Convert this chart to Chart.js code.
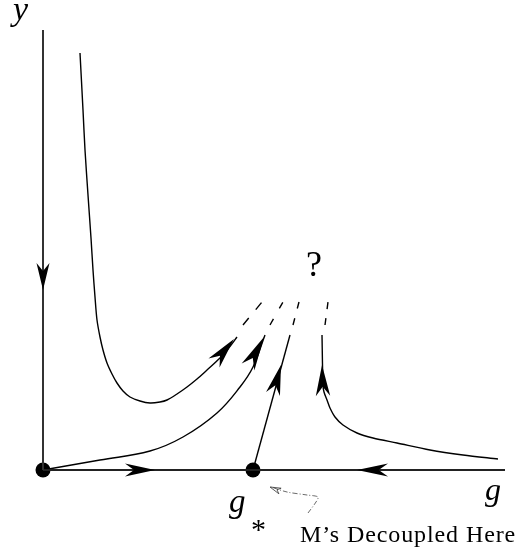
<!DOCTYPE html>
<html><head><meta charset="utf-8">
<script src="https://cdn.jsdelivr.net/npm/chart.js@4/dist/chart.umd.min.js"></script>
<style>html,body{margin:0;padding:0;background:#fff}#wrap{width:520px;height:554px}</style>
</head><body><div id="wrap"><canvas id="c" width="520" height="554"></canvas></div>
<script>
// Coordinates: g (horizontal), y (vertical), origin at the unstable fixed point
const axisY = {g:[0,0], y:[440,0]};
const axisG = {g:[0,462], y:[0,0]};
const fixedPoints = {g:[0,210], y:[0,0]};
// flow lines (solid part)
const flow1 = {g:[37,40,42,45,48,50,52,54,57,60,64,69,74,80,87,97,107,117,124,134,144,154,164,177,185,194],
               y:[417,360,320,275,232,200,173,150,133,120,107,96,87,79,73,69,67,68,70,76,83,91,100,112,121,133]};
const flow2 = {g:[0,57,107,140,174,197,210,222], y:[0,10,19,33,57,83,103,135]};
const flow3 = {g:[210,247], y:[0,135]};
const flow4 = {g:[455,420,387,354,330,314,300,292,287,284,281,280,279], y:[11,15,20,27,32,37,45,53,62,70,78,85,135]};
// dashed continuations toward "?"
const dash1 = {g:[200,219], y:[145,168]};
const dash2 = {g:[227,240], y:[145,168]};
const dash3 = {g:[250,256], y:[145,168]};
const dash4 = {g:[282,285], y:[145,168]};
// pointer to g*
const pointer = {g:[265,273,275,264,244,228], y:[-43,-32,-27,-25,-22,-17]};
// arrowheads: [tipG, tipY, backG, backY]
const arrows = [[0,180,0,207],[112,0,82,0],[314,0,345,0],[191,131,171,107],[221,133,205,103],[238,105,230,76],[279,105,280,74]];
const openArrows = [[227,-17,237,-21]];
// labels
const labelText = ['y','?','g','g','*','M\u2019s Decoupled Here'];
const labelG = [-30,263,442,186,208,257];
const labelY = [450,194,-30,-42,-69,-72];

function pts(s){return s.g.map((g,i)=>({x:g,y:s.y[i]}));}
const line = (s,extra)=>Object.assign({data:pts(s),showLine:true,pointRadius:0,borderColor:'#000',borderWidth:1.4,fill:false,tension:0},extra||{});

const headPlugin = {
  id:'heads',
  afterDatasetsDraw(chart){
    const {ctx,scales:{x,y}} = chart;
    ctx.save();
    arrows.forEach((a,i)=>{
      const tx=x.getPixelForValue(a[0]), ty=y.getPixelForValue(a[1]);
      const bx=x.getPixelForValue(a[2]), by=y.getPixelForValue(a[3]);
      const dx=tx-bx, dy=ty-by, L=Math.hypot(dx,dy), ux=dx/L, uy=dy/L, nx=-uy, ny=ux, w=i<3?6.5:7.2;
      ctx.beginPath();
      ctx.moveTo(tx,ty);
      ctx.lineTo(bx+nx*w,by+ny*w);
      ctx.lineTo(bx+ux*L*0.3,by+uy*L*0.3);
      ctx.lineTo(bx-nx*w,by-ny*w);
      ctx.closePath();
      ctx.fillStyle='#000'; ctx.fill();
    });
    openArrows.forEach(a=>{
      const tx=x.getPixelForValue(a[0]), ty=y.getPixelForValue(a[1]);
      const bx=x.getPixelForValue(a[2]), by=y.getPixelForValue(a[3]);
      const dx=tx-bx, dy=ty-by, L=Math.hypot(dx,dy), ux=dx/L, uy=dy/L, nx=-uy, ny=ux, w=3;
      ctx.beginPath();
      ctx.moveTo(tx,ty);
      ctx.lineTo(bx+nx*w,by+ny*w);
      ctx.lineTo(bx+ux*L*0.3,by+uy*L*0.3);
      ctx.lineTo(bx-nx*w,by-ny*w);
      ctx.closePath();
      ctx.strokeStyle='#333'; ctx.lineWidth=0.8; ctx.stroke();
    });
    const fonts=['italic 34px "Liberation Serif"','36px "Liberation Serif"','italic 32px "Liberation Serif"','italic 33px "Liberation Serif"','30px "Liberation Serif"','24px "Liberation Serif"'];
    const spacing=['0px','0px','0px','0px','0px','0.9px'];
    ctx.fillStyle='#000'; ctx.textBaseline='alphabetic'; ctx.textAlign='left';
    labelText.forEach((t,i)=>{
      ctx.font=fonts[i];
      ctx.letterSpacing=spacing[i];
      ctx.fillText(t,x.getPixelForValue(labelG[i]),y.getPixelForValue(labelY[i]));
    });
    ctx.restore();
  }
};

new Chart(document.getElementById('c'),{
  type:'scatter',
  data:{datasets:[
    line(axisY,{borderColor:'#333',borderWidth:2}),
    line(axisG,{borderColor:'#222',borderWidth:2}),
    line(flow1,{tension:0.3}),
    line(flow2,{tension:0.4}),
    line(flow3),
    line(flow4,{tension:0.3}),
    line(dash1,{borderDash:[9,11]}),
    line(dash2,{borderDash:[7,12]}),
    line(dash3,{borderDash:[7,10]}),
    line(dash4,{borderDash:[7,9]}),
    line(pointer,{borderColor:'#444',borderWidth:0.8,borderDash:[5,2,1,2],tension:0.3}),
    {data:pts(fixedPoints),pointRadius:7.5,pointBackgroundColor:'#000',pointBorderWidth:0,showLine:false}
  ]},
  options:{
    responsive:false,animation:false,
    layout:{padding:0,autoPadding:false},
    plugins:{legend:{display:false},tooltip:{enabled:false}},
    scales:{
      x:{type:'linear',min:-43,max:477,display:false},
      y:{type:'linear',min:-84,max:470,display:false}
    }
  },
  plugins:[headPlugin]
});
</script></body></html>
